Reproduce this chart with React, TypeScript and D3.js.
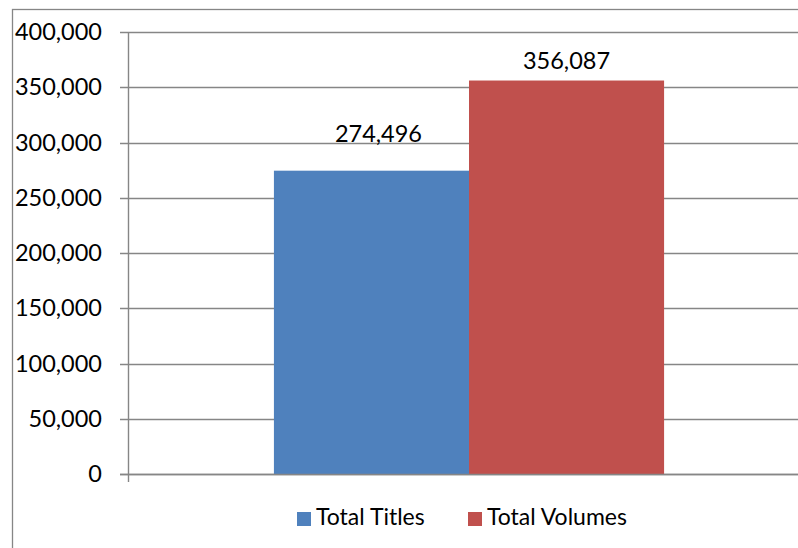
import { useMemo } from "react";
import { format, scaleBand, scaleLinear } from "d3";

const totalWidth = 798;
const totalHeight = 548;
const plotLeft = 128;
const plotRight = 810;
const plotTop = 32;
const plotBottom = 474;
const gridColor = "#868686";
const fontFamily = "Lato, 'Liberation Sans', sans-serif";

const categories = [""];
const seriesNames = ["Total Titles", "Total Volumes"];
const seriesValues = [274496, 356087];
const seriesColors = ["#4f81bd", "#c0504d"];
const yTicks = [0, 50000, 100000, 150000, 200000, 250000, 300000, 350000, 400000];
// hand-placed data label nudges, as in the source
const labelOffsets: Array<[number, number]> = [
  [7, -29],
  [0, -12],
];

const fmt = format(",");

export default function App() {
  const { yScale, catScale, seriesScale } = useMemo(() => {
    const yScale = scaleLinear().domain([0, 400000]).range([plotBottom, plotTop]);
    const catScale = scaleBand<string>()
      .domain(categories)
      .range([plotLeft, plotRight])
      .paddingInner(0)
      .paddingOuter(0.374);
    const seriesScale = scaleBand<string>()
      .domain(seriesNames)
      .range([0, catScale.bandwidth()]);
    return { yScale, catScale, seriesScale };
  }, []);

  const legendBaseline = 525;
  const legendItems = [
    { x: 297, textX: 316 },
    { x: 468, textX: 487 },
  ];

  return (
    <svg
      width={totalWidth}
      height={totalHeight}
      viewBox={`0 0 ${totalWidth} ${totalHeight}`}
      style={{ position: "absolute", left: 0, top: 0, background: "white" }}
      fontFamily={fontFamily}
    >
      <rect
        x={12.5}
        y={9.5}
        width={totalWidth + 20}
        height={totalHeight + 20}
        fill="white"
        stroke={gridColor}
        strokeWidth={1.3}
      />
      {yTicks.map((t) => (
        <g key={t}>
          <line
            x1={plotLeft - 8}
            x2={plotRight}
            y1={Math.round(yScale(t)) + 0.5}
            y2={Math.round(yScale(t)) + 0.5}
            stroke={gridColor}
            strokeWidth={1.4}
          />
          <text
            x={102}
            y={yScale(t)}
            dy="0.35em"
            textAnchor="end"
            fontSize={23.5}
            fill="#000"
          >
            {fmt(t)}
          </text>
        </g>
      ))}
      <line
        x1={plotLeft + 0.5}
        x2={plotLeft + 0.5}
        y1={plotTop}
        y2={plotBottom + 8}
        stroke={gridColor}
        strokeWidth={1.4}
      />
      {categories.map((c) => (
        <g key={c} transform={`translate(${catScale(c)},0)`}>
          {seriesNames.map((s, i) => {
            const x = seriesScale(s) ?? 0;
            const y = yScale(seriesValues[i]);
            return (
              <g key={s}>
                <rect
                  x={x}
                  y={y}
                  width={seriesScale.bandwidth()}
                  height={plotBottom - y}
                  fill={seriesColors[i]}
                />
                <text
                  x={x + seriesScale.bandwidth() / 2 + labelOffsets[i][0]}
                  y={y + labelOffsets[i][1]}
                  textAnchor="middle"
                  fontSize={23.5}
                  fill="#000"
                >
                  {fmt(seriesValues[i])}
                </text>
              </g>
            );
          })}
        </g>
      ))}
      <line
        x1={plotLeft - 8}
        x2={plotRight}
        y1={plotBottom + 0.5}
        y2={plotBottom + 0.5}
        stroke={gridColor}
        strokeWidth={1.4}
      />
      {seriesNames.map((s, i) => (
        <g key={s}>
          <rect
            x={legendItems[i].x}
            y={legendBaseline - 13}
            width={14}
            height={14}
            fill={seriesColors[i]}
          />
          <text
            x={legendItems[i].textX}
            y={legendBaseline}
            fontSize={23}
            fill="#000"
          >
            {s}
          </text>
        </g>
      ))}
    </svg>
  );
}
